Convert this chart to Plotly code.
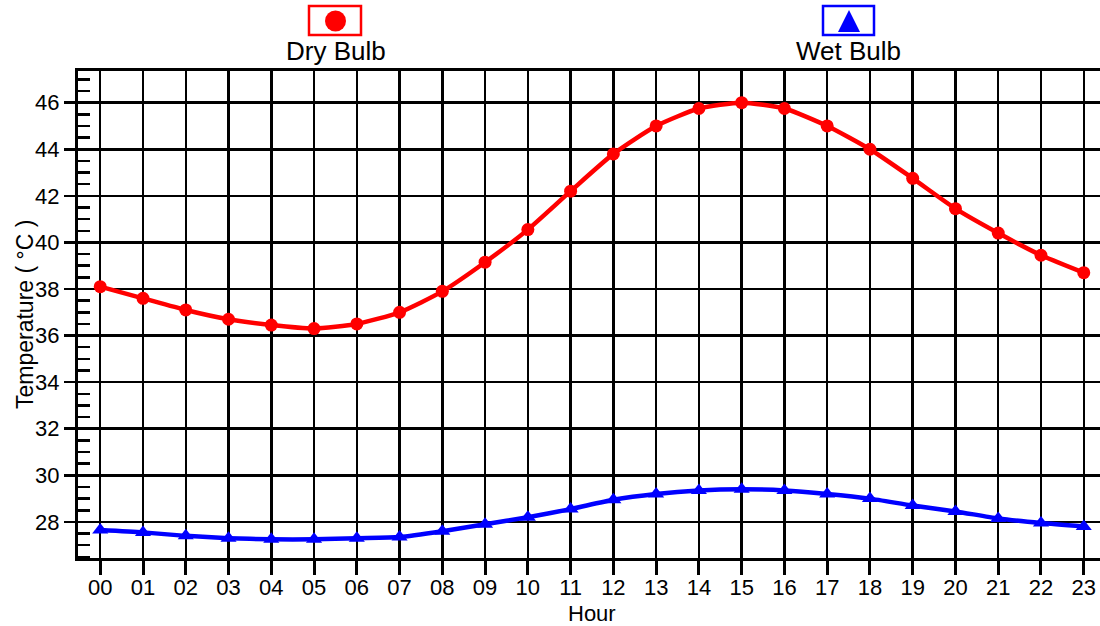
import plotly.graph_objects as go

hours = list(range(24))
hour_labels = [f"{h:02d}" for h in hours]
dry_bulb = [38.1, 37.6, 37.1, 36.7, 36.45, 36.3, 36.5, 37.0, 37.9, 39.15, 40.55, 42.2,
            43.8, 45.0, 45.75, 46.0, 45.75, 45.0, 44.0, 42.75, 41.45, 40.4, 39.45, 38.7]
wet_bulb = [27.65, 27.55, 27.4, 27.3, 27.25, 27.25, 27.3, 27.35, 27.6, 27.9, 28.2, 28.55,
            28.95, 29.2, 29.35, 29.4, 29.35, 29.2, 29.0, 28.7, 28.45, 28.15, 27.95, 27.8]
y_ticks = list(range(28, 47, 2))

W, H = 1100, 626
L, R, T, B = 78, 0, 71, 68
PW = W - L - R
PH = H - T - B

def px(x):
    return (x - L) / PW

def py(y):
    return (H - B - y) / PH

FONT = "Liberation Sans, Arial, sans-serif"

fig = go.Figure()
fig.add_trace(go.Scatter(
    x=hours, y=dry_bulb, mode="lines+markers", name="Dry Bulb",
    line=dict(color="#ff0000", width=4.5, shape="spline", smoothing=0.6),
    marker=dict(symbol="circle", size=13, color="#ff0000"),
    showlegend=False, cliponaxis=False, hoverinfo="skip",
))
fig.add_trace(go.Scatter(
    x=hours, y=wet_bulb, mode="lines+markers", name="Wet Bulb",
    line=dict(color="#0000ff", width=4.5, shape="spline", smoothing=0.6),
    marker=dict(symbol="triangle-up", size=14, color="#0000ff"),
    showlegend=False, cliponaxis=False, hoverinfo="skip",
))

fig.update_layout(
    width=W, height=H,
    margin=dict(l=L, r=R, t=T, b=B, autoexpand=False),
    paper_bgcolor="white", plot_bgcolor="white",
    font=dict(family=FONT, color="black", size=22),
    xaxis=dict(
        range=[-0.52, 23.38], automargin=False,
        tickmode="array", tickvals=hours, ticktext=hour_labels,
        ticks="outside", ticklen=14, tickwidth=3, tickcolor="black",
        ticklabelstandoff=-6,
        showgrid=True, gridcolor="black", gridwidth=2.5,
        showline=True, linecolor="black", linewidth=3, mirror=True,
        zeroline=False,
        tickfont=dict(size=22),
    ),
    yaxis=dict(
        range=[26.45, 47.36], automargin=False,
        tickmode="array", tickvals=y_ticks,
        ticks="outside", ticklen=11, tickwidth=2.5, tickcolor="black",
        showgrid=True, gridcolor="black", gridwidth=2.5,
        showline=True, linecolor="black", linewidth=3, mirror=True,
        zeroline=False,
        tickfont=dict(size=22),
        minor=dict(dtick=0.5, tick0=0, ticks="inside", ticklen=12, tickwidth=2.5,
                   tickcolor="black", showgrid=False),
    ),
)

# Legend boxes and markers
shapes = []
shapes.append(dict(type="rect", xref="paper", yref="paper",
                   x0=px(309), x1=px(361), y0=py(35), y1=py(6),
                   line=dict(color="#ff0000", width=2.5), fillcolor="white"))
shapes.append(dict(type="circle", xref="paper", yref="paper",
                   x0=px(325), x1=px(346), y0=py(31.5), y1=py(10.5),
                   line=dict(color="#ff0000", width=0), fillcolor="#ff0000"))
shapes.append(dict(type="rect", xref="paper", yref="paper",
                   x0=px(823), x1=px(874), y0=py(35), y1=py(6),
                   line=dict(color="#0000ff", width=2.5), fillcolor="white"))
tri = f"M {px(849)},{py(10)} L {px(838)},{py(32)} L {px(860)},{py(32)} Z"
shapes.append(dict(type="path", xref="paper", yref="paper", path=tri,
                   line=dict(color="#0000ff", width=0), fillcolor="#0000ff"))
fig.update_layout(shapes=shapes)

fig.add_annotation(x=px(336), y=py(51), xref="paper", yref="paper",
                   text="Dry Bulb", showarrow=False, xanchor="center", yanchor="middle",
                   font=dict(size=26, family=FONT, color="black"))
fig.add_annotation(x=px(848.5), y=py(51), xref="paper", yref="paper",
                   text="Wet Bulb", showarrow=False, xanchor="center", yanchor="middle",
                   font=dict(size=26, family=FONT, color="black"))
# Axis titles
fig.add_annotation(x=px(592), y=py(613), xref="paper", yref="paper",
                   text="Hour", showarrow=False, xanchor="center", yanchor="middle",
                   font=dict(size=22, family=FONT, color="black"))
fig.add_annotation(x=px(25), y=py(315), xref="paper", yref="paper",
                   text="Temperature ( °C )", showarrow=False, textangle=-90,
                   xanchor="center", yanchor="middle",
                   font=dict(size=23, family=FONT, color="black"))

fig.write_html("out.html",
               config={"displayModeBar": False, "staticPlot": True},
               post_script="document.body.style.margin='0';document.body.style.overflow='hidden';")
